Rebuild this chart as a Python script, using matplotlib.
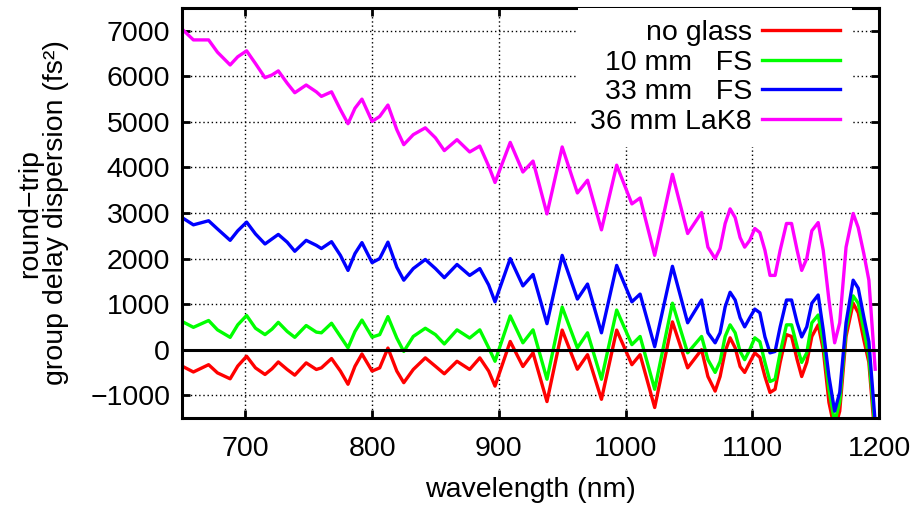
import numpy as np
import matplotlib
matplotlib.use("Agg")
import matplotlib.pyplot as plt

plt.rcParams['font.family'] = ['Liberation Sans', 'DejaVu Sans']

# wavelength samples (nm)
wavelength = [650, 659, 671, 678, 688, 694, 701, 708, 715.5, 721, 726, 733, 739, 748, 756, 760,
              768, 775, 781, 786.5, 792, 800, 806, 812.5, 819.5, 825, 832.5, 842, 850, 857, 867,
              877, 885, 892, 897,
              909, 919, 927, 938, 950, 962, 970, 981, 993, 1005, 1011.5, 1023, 1037, 1049,
              1060, 1065, 1070.7, 1074.6, 1078.6, 1082.5, 1086.5, 1090.4, 1094, 1098, 1102, 1106,
              1110, 1114, 1118, 1122, 1127, 1131, 1135.4, 1139, 1143, 1147, 1152, 1156, 1160.5,
              1165, 1169, 1174, 1179.6, 1183.6, 1188, 1192, 1197]

no_glass = [-360, -490, -330, -510, -640, -360, -145, -400, -545, -420, -270, -435, -560, -290, -435, -400,
            -195, -470, -760, -365, -95, -470, -400, 35, -470, -725, -435, -180, -365, -530, -255,
            -435, -180, -470, -800,
            180, -370, -70, -1140, 430, -430, -110, -1090, 430, -330, -110, -1270, 610, -400,
            0, -590, -910, -590, -40, 260, 40, -370, -500, -280, -70, -170,
            -590, -940, -870, -280, 330, 290, -220, -590, -280, 290, 545, 0, -1160,
            -1750, -1350, 290, 1020, 810, 220, -280, -2000]

fs_10mm = [620, 490, 640, 435, 270, 545, 750, 470, 330, 450, 600, 400, 270, 530, 385, 370,
           580, 290, 40, 400, 650, 275, 330, 725, 255, -40, 290, 470, 330, 125, 435,
           255, 435, 40, -255,
           740, 150, 435, -650, 935, 40, 370, -650, 870, 110, 290, -870, 1020, -70,
           290, -220, -500, -260, 290, 545, 370, -40, -220, 0, 260, 175,
           -280, -700, -650, -70, 545, 545, 65, -280, -70, 590, 760, 150, -870,
           -1600, -1150, 435, 1180, 1020, 435, -150, -1800]

fs_33mm = [2900, 2740, 2830, 2650, 2400, 2610, 2800, 2540, 2320, 2430, 2530, 2360, 2160, 2400, 2290, 2220,
           2370, 2070, 1740, 2110, 2350, 1910, 2000, 2360, 1810, 1525, 1780, 1980, 1780, 1580, 1870,
           1630, 1780, 1420, 1050,
           2000, 1400, 1650, 570, 2070, 1110, 1440, 370, 1850, 1050, 1220, 65, 1830, 590,
           1090, 370, 150, 370, 940, 1260, 1090, 700, 500, 700, 890, 810,
           280, -70, -40, 500, 1090, 1090, 590, 280, 500, 1020, 1200, 435, -590,
           -1350, -940, 590, 1525, 1350, 720, 175, -1600]

lak8_36mm = [7040, 6800, 6800, 6530, 6250, 6430, 6560, 6280, 5970, 6030, 6120, 5850, 5640, 5810, 5660, 5560,
             5660, 5270, 4960, 5300, 5500, 5010, 5120, 5370, 4830, 4500, 4720, 4870, 4650, 4370, 4610,
             4340, 4470, 4030, 3670,
             4550, 3900, 4140, 2980, 4450, 3440, 3720, 2630, 4050, 3200, 3330, 2070, 3850, 2550,
             3010, 2250, 2000, 2220, 2770, 3090, 2900, 2460, 2250, 2400, 2660, 2570,
             2180, 1630, 1630, 2180, 2770, 2770, 2180, 1740, 2000, 2610, 2790, 2180, 1090,
             150, 590, 2250, 2990, 2680, 2110, 1525, -430]

labels = ['no glass', '10 mm   FS', '33 mm   FS', '36 mm LaK8']
colors = ['#ff0000', '#00ff00', '#0000ff', '#ff00ff']
series = [no_glass, fs_10mm, fs_33mm, lak8_36mm]

FS = 20.5

fig = plt.figure(figsize=(9.21, 5.14), dpi=100)
ax = fig.add_axes([0.1976, 0.1868, 0.7568, 0.7976])

for vals, lab, col in zip(series, labels, colors):
    ax.plot(wavelength, vals, color=col, lw=2.4, label=lab, zorder=2,
            solid_joinstyle='round')

ax.axhline(0, color='k', lw=2.2, zorder=3)

ax.set_xlim(650, 1200)
ax.set_ylim(-1500, 7500)
ax.set_xticks([700, 800, 900, 1000, 1100, 1200])
ax.set_yticks(np.arange(-1000, 7001, 1000))
ax.set_yticklabels([f"{v}".replace('-', '\u2212') for v in range(-1000, 7001, 1000)])
ax.grid(True, color='k', lw=1.0, linestyle=(0, (1, 2)))
ax.set_axisbelow(True)

for s in ax.spines.values():
    s.set_linewidth(2.2)
ax.tick_params(direction='in', length=6, width=2, top=True, right=True, labelsize=FS)
ax.tick_params(axis='x', pad=13)
ax.tick_params(axis='y', pad=8.5)

ax.set_xlabel('wavelength (nm)', fontsize=FS, labelpad=11)
ax.set_ylabel('round\u2212trip\ngroup delay dispersion (fs\u00b2)', fontsize=FS, labelpad=15,
              linespacing=1.0)

leg = ax.legend(loc='upper right', bbox_to_anchor=(0.961, 1.0), borderaxespad=0,
                markerfirst=False, fontsize=FS, handlelength=2.74, handletextpad=0.35,
                labelspacing=0.13, borderpad=0.42, fancybox=False, frameon=True,
                framealpha=1, edgecolor='none', facecolor='white')
for h in leg.get_lines():
    h.set_linewidth(2.4)
leg.set_zorder(5)

fig.savefig('out.png', dpi=100)
